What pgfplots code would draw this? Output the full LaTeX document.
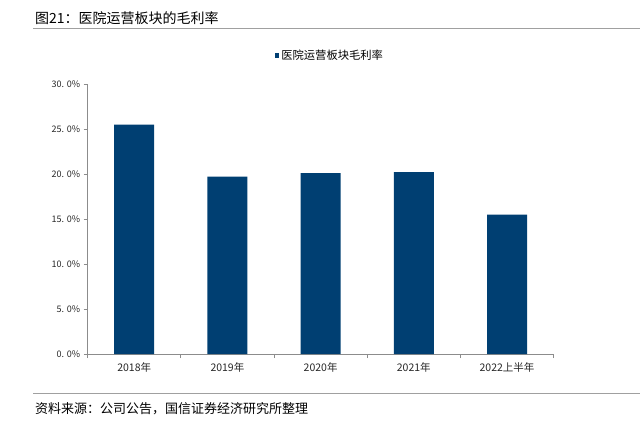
\documentclass[border=0pt]{standalone}
\usepackage{fontspec}
\setmainfont{Noto Sans CJK SC}
\usepackage{pgfplots}
\pgfplotsset{compat=1.18}
\definecolor{barblue}{HTML}{003F72}
\definecolor{axgray}{HTML}{8C8C8C}
\definecolor{rulegray}{HTML}{A0A0A0}
\begin{document}
\begin{tikzpicture}[x=1pt,y=1pt]
\path (0,0) rectangle (642,426);
\node[anchor=west,font=\fontsize{14}{16}\selectfont,inner sep=0] at (35,408) {图21：医院运营板块的毛利率};
\draw[rulegray,line width=0.8pt] (33,398) -- (640,398);
\draw[rulegray,line width=0.8pt] (33,33) -- (640,33);
\node[anchor=west,font=\fontsize{13}{15}\selectfont,inner sep=0] at (35,17) {资料来源：公司公告，国信证券经济研究所整理};
\begin{axis}[
  at={(94,80)}, anchor=south west,
  width=466pt, height=270pt, scale only axis,
  ybar, bar width=40pt,
  xmin=-0.5, xmax=4.5, ymin=0, ymax=30,
  axis x line*=bottom, axis y line*=left,
  axis line style={axgray, line width=0.8pt},
  xtick={0,1,2,3,4},
  xticklabels={2018年,2019年,2020年,2021年,2022上半年},
  major x tick style={draw=none},
  minor xtick={-0.5,0.5,1.5,2.5,3.5,4.5},
  minor x tick style={axgray, line width=0.8pt},
  minor tick length=4pt,
  ytick={0,5,10,15,20,25,30},
  yticklabels={0. 0\%,5. 0\%,10. 0\%,15. 0\%,20. 0\%,25. 0\%,30. 0\%},
  y tick style={axgray, line width=0.8pt},
  major tick length=4pt,
  tick align=outside,
  yticklabel style={font=\fontsize{9}{11}\selectfont, text=black!85},
  xticklabel style={font=\fontsize{10.5}{12}\selectfont, text=black!85, yshift=-1pt},
  legend style={at={(0.52,1.105)}, anchor=center, draw=none, fill=none,
    font=\fontsize{11.3}{13}\selectfont, inner sep=0pt},
  legend image code/.code={\fill[barblue] (0pt,-2.5pt) rectangle (4.5pt,2.5pt);},
]
\addplot[fill=barblue, draw=none, bar shift=0pt] coordinates {(0,25.5) (1,19.7) (2,20.1) (3,20.2) (4,15.5)};
\addlegendentry{医院运营板块毛利率}
\end{axis}
\end{tikzpicture}
\end{document}
